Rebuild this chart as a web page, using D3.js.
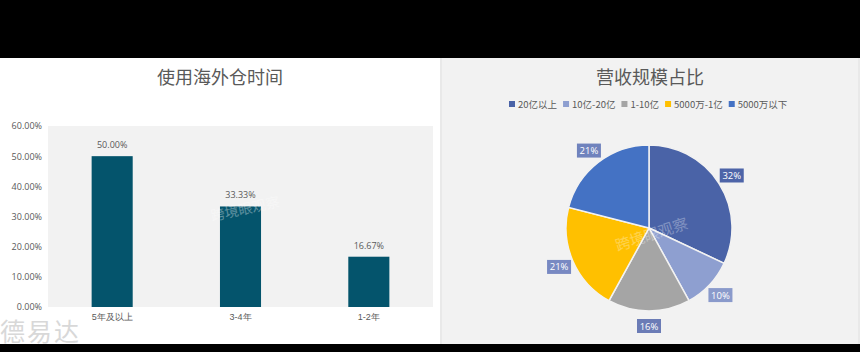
<!DOCTYPE html>
<html><head><meta charset="utf-8">
<script src="https://cdn.jsdelivr.net/npm/d3@7"></script>
<style>
html,body{margin:0;padding:0;background:#000;}
svg{display:block;font-family:"Noto Sans CJK SC","Noto Sans",sans-serif;}
</style></head>
<body>
<svg id="c" width="860" height="352"></svg>
<script>
// ---- data ----
const barTitle = "使用海外仓时间";
const barCategories = ["5年及以上", "3-4年", "1-2年"];
const barValues = [50.00, 33.33, 16.67];
const yTicks = [0, 10, 20, 30, 40, 50, 60];

const pieTitle = "营收规模占比";
const pieCategories = ["20亿以上", "10亿-20亿", "1-10亿", "5000万-1亿", "5000万以下"];
const pieValues = [32, 10, 16, 21, 21];

// ---- styles ----
const pieColors = ["#4a63a7", "#8e9fd0", "#a5a5a5", "#ffc000", "#4472c4"];
const labelBoxColors = ["#4d64a8", "#8a9acb", "#6b7cb6", "#7889c2", "#7083bd"];
const barColor = "#04546c";
const textColor = "#595959";

const svg = d3.select("#c");
svg.append("rect").attr("x",0).attr("y",0).attr("width",860).attr("height",352).attr("fill","#000");
// left panel
svg.append("rect").attr("x",0).attr("y",58).attr("width",440).attr("height",286).attr("fill","#ffffff");
// right panel
svg.append("rect").attr("x",440).attr("y",58).attr("width",420).attr("height",286).attr("fill","#e9e9e9");
svg.append("rect").attr("x",442).attr("y",58).attr("width",416).attr("height",286).attr("fill","#f2f2f2");

// ---- bar chart ----
const plot = {x0:48, x1:433, y0:126, y1:307};
svg.append("rect").attr("x",plot.x0).attr("y",plot.y0).attr("width",plot.x1-plot.x0).attr("height",plot.y1-plot.y0).attr("fill","#f2f2f2");

const x = d3.scaleBand().domain(barCategories).range([plot.x0, plot.x1]).paddingInner(0.68).paddingOuter(0.34);
const y = d3.scaleLinear().domain([0, 60]).range([plot.y1, plot.y0]);

svg.append("text").attr("x",220).attr("y",84).attr("text-anchor","middle")
  .attr("font-size",18).attr("fill",textColor).text(barTitle);

const yAxis = svg.append("g").attr("transform",`translate(${plot.x0},0)`)
  .call(d3.axisLeft(y).tickValues(yTicks).tickSize(0).tickPadding(6).tickFormat(d => d.toFixed(2)+"%"));
yAxis.select(".domain").remove();
yAxis.selectAll("text").attr("font-size",9).attr("fill",textColor).attr("font-family","Open Sans, Noto Sans, sans-serif");

const xAxis = svg.append("g").attr("transform",`translate(0,${plot.y1})`)
  .call(d3.axisBottom(x).tickSize(0).tickPadding(7));
xAxis.select(".domain").remove();
xAxis.selectAll("text").attr("font-size",9).attr("fill",textColor);

svg.selectAll(".bar").data(barValues).enter().append("rect")
  .attr("x",(d,i)=>x(barCategories[i])).attr("width",x.bandwidth())
  .attr("y",d=>y(d)).attr("height",d=>y(0)-y(d)).attr("fill",barColor);

svg.selectAll(".blab").data(barValues).enter().append("text")
  .attr("x",(d,i)=>x(barCategories[i])+x.bandwidth()/2).attr("y",d=>y(d)-8)
  .attr("text-anchor","middle").attr("font-size",9).attr("fill",textColor)
  .attr("font-family","Open Sans, Noto Sans, sans-serif")
  .text(d=>d.toFixed(2)+"%");

// watermarks
svg.append("text").attr("x",0).attr("y",341).attr("font-size",25).attr("fill","#d8d8d8").attr("letter-spacing",2).text("德易达");
svg.append("text").attr("x",212).attr("y",221).attr("font-size",14).attr("fill","#ffffff").attr("opacity",0.35)
  .attr("transform","rotate(-12,212,221)").text("跨境眼观察");

// ---- pie chart ----
svg.append("text").attr("x",650).attr("y",84).attr("text-anchor","middle")
  .attr("font-size",18).attr("fill",textColor).text(pieTitle);

// legend
const legend = svg.append("g").attr("font-size",9.5).attr("fill",textColor);
let lx = 509;
pieCategories.forEach((c,i)=>{
  legend.append("rect").attr("x",lx).attr("y",101).attr("width",6).attr("height",6).attr("fill",pieColors[i]);
  const t = legend.append("text").attr("x",lx+9).attr("y",108).text(c);
  lx += t.node().getComputedTextLength() + 15;
});

const cx = 649, cy = 228, r = 83;
const pie = d3.pie().sort(null).value(d=>d)(pieValues);
const arc = d3.arc().innerRadius(0).outerRadius(r);
const g = svg.append("g").attr("transform",`translate(${cx},${cy})`);
g.selectAll("path").data(pie).enter().append("path")
  .attr("d",arc).attr("fill",(d,i)=>pieColors[i]).attr("stroke","#f2f2f2").attr("stroke-width",1.5);

svg.append("text").attr("x",612).attr("y",240).attr("font-size",15).attr("fill","#ffffff").attr("opacity",0.3)
  .attr("transform","rotate(-18,650,228)").text("跨境眼观察");

const labelArc = d3.arc().innerRadius(98).outerRadius(98);
const lg = g.selectAll(".pl").data(pie).enter().append("g")
  .attr("transform",d=>`translate(${labelArc.centroid(d)})`);
lg.append("rect").attr("x",-12).attr("y",-7).attr("width",24).attr("height",14)
  .attr("fill",(d,i)=>labelBoxColors[i]);
lg.append("text").attr("text-anchor","middle").attr("y",3.5).attr("font-size",9.5).attr("fill","#ffffff")
  .attr("font-family","Open Sans, Noto Sans, sans-serif")
  .text(d=>d.data+"%");
</script>
</body></html>
